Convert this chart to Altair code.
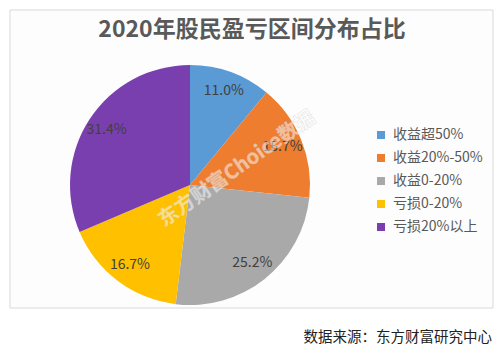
import altair as alt
import pandas as pd

categories = ["收益超50%", "收益20%-50%", "收益0-20%", "亏损0-20%", "亏损20%以上"]
values = [11.0, 15.7, 25.2, 16.7, 31.4]
labels = ["11.0%", "15.7%", "25.2%", "16.7%", "31.4%"]
colors = ["#5b9bd5", "#ef7d2f", "#a9a9a9", "#ffc000", "#7a3fae"]

title_text = "2020年股民盈亏区间分布占比"
source_text = "数据来源：东方财富研究中心"
watermark_text = "东方财富Choice数据"

df = pd.DataFrame({
    "category": categories,
    "value": values,
    "label": labels,
    "order": list(range(len(categories))),
})
one = pd.DataFrame({"t": [0]})

FONT = "Noto Sans CJK SC"
CX, CY, R = 182, 177, 120

frame = alt.Chart(one).mark_rect(fill="#fdfdfd", stroke="#d9d9d9", strokeWidth=1).encode(
    x=alt.value(2), x2=alt.value(485), y=alt.value(2), y2=alt.value(300)
)

pie = alt.Chart(df).mark_arc(radius=R, x=CX, y=CY).encode(
    theta=alt.Theta("value:Q", stack=True),
    order=alt.Order("order:Q"),
    color=alt.Color(
        "category:N",
        scale=alt.Scale(domain=categories, range=colors),
        sort=categories,
        legend=alt.Legend(
            title=None,
            orient="none",
            legendX=366,
            legendY=120,
            symbolType="square",
            symbolSize=64,
            symbolStrokeWidth=0,
            labelFont=FONT,
            labelFontSize=14,
            labelColor="#595959",
            rowPadding=9,
            labelOffset=5,
        ),
    ),
)

text = alt.Chart(df).mark_text(
    radius=100, x=CX, y=CY, font=FONT, fontSize=14, color="#404040"
).encode(
    theta=alt.Theta("value:Q", stack=True),
    order=alt.Order("order:Q"),
    text="label:N",
)

title = alt.Chart(one).mark_text(
    font=FONT, fontSize=23, fontWeight="bold", color="#595959", align="center", baseline="middle"
).encode(x=alt.value(244), y=alt.value(22), text=alt.value(title_text))

source = alt.Chart(one).mark_text(
    font=FONT, fontSize=14.5, color="#222222", align="right", baseline="middle"
).encode(x=alt.value(484), y=alt.value(330), text=alt.value(source_text))

watermark = alt.Chart(one).mark_text(
    font=FONT, fontSize=20, fontWeight="bold", fill="#ffffff", fillOpacity=0.5,
    stroke="#cccccc", strokeWidth=0.5, strokeOpacity=0.6,
    angle=325, align="center", baseline="middle"
).encode(x=alt.value(229), y=alt.value(161), text=alt.value(watermark_text))

chart = alt.layer(frame, pie, text, watermark, title, source).properties(
    width=488, height=340, padding=0, autosize="none", background="#ffffff"
).configure_view(stroke=None)

chart.save("out.html", embed_options={"renderer": "svg", "actions": False})
